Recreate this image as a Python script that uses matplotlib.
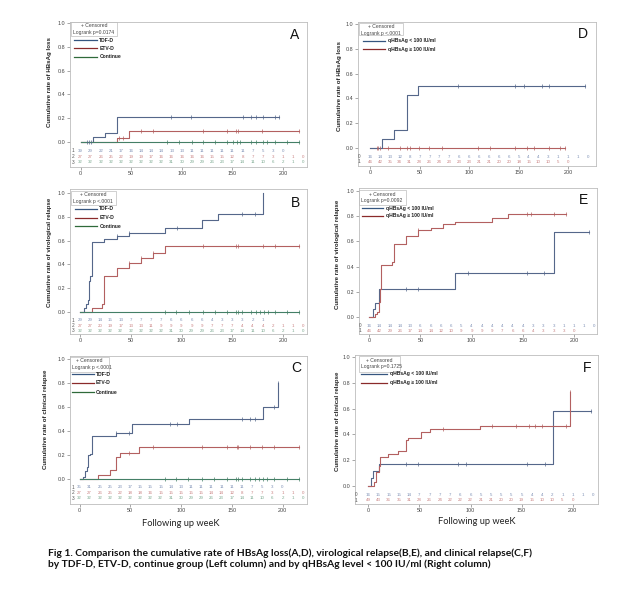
import numpy as np
import matplotlib.pyplot as plt
from matplotlib.lines import Line2D
from matplotlib.patches import Rectangle

plt.rcParams['font.family'] = ['Liberation Sans', 'DejaVu Sans']

W, H = 637, 605

# ---- data ----
risk_times = list(range(0, 230, 10))

# A: HBsAg loss by group
a_tdf_t = [0, 12, 24, 36]
a_tdf_y = [0, 0.04, 0.076, 0.21]
a_tdf_end = 196
a_tdf_cens = [6, 8, 10, 89, 109, 160, 168, 173, 180, 192, 196]
a_etv_t = [0, 36, 48]
a_etv_y = [0, 0.037, 0.09]
a_etv_end = 216
a_etv_cens = [38, 42, 60, 72, 121, 145, 154, 156, 179, 216]
a_cont_end = 216
a_cont_cens = [85, 97, 110, 121, 133, 145, 151, 155, 158, 168, 173, 180, 184, 192, 204, 216]
a_risk = [
    [39, 29, 22, 21, 17, 16, 14, 14, 14, 13, 13, 11, 11, 11, 11, 11, 11, 7, 5, 3, 0],
    [27, 27, 26, 25, 22, 19, 19, 17, 16, 16, 16, 16, 16, 15, 15, 12, 8, 7, 7, 3, 1, 1, 0],
    [32, 32, 32, 32, 32, 32, 32, 32, 32, 31, 30, 29, 29, 26, 23, 17, 14, 11, 10, 6, 2, 1, 0],
]

# B: virological relapse by group
b_tdf_t = [0, 4, 6, 8, 9, 10, 12, 24, 36, 48, 84, 120, 136, 180]
b_tdf_y = [0, 0.03, 0.07, 0.10, 0.26, 0.30, 0.59, 0.615, 0.64, 0.665, 0.71, 0.77, 0.825, 1.0]
b_tdf_end = 180
b_tdf_cens = [36, 48, 96, 160, 172]
b_etv_t = [0, 12, 22, 24, 36, 48, 60, 72, 84]
b_etv_y = [0, 0.035, 0.07, 0.30, 0.37, 0.41, 0.45, 0.50, 0.555]
b_etv_end = 216
b_etv_cens = [48, 60, 72, 121, 154, 156, 180, 192, 216]
b_cont_end = 216
b_cont_cens = [84, 95, 107, 121, 133, 145, 154, 156, 160, 168, 173, 177, 181, 185, 192, 204, 216]
b_risk = [
    [29, 29, 14, 15, 13, 7, 7, 7, 7, 6, 6, 6, 6, 4, 3, 3, 3, 2, 1],
    [27, 27, 20, 19, 17, 13, 13, 11, 9, 9, 9, 9, 9, 7, 7, 7, 4, 4, 4, 2, 1, 1, 0],
    [32, 32, 32, 32, 32, 32, 32, 32, 32, 31, 30, 29, 29, 26, 23, 17, 14, 11, 10, 6, 2, 1, 0],
]

# C: clinical relapse by group
c_tdf_t = [0, 3, 5, 7, 8, 10, 12, 36, 52, 108, 181, 196]
c_tdf_y = [0, 0.02, 0.07, 0.10, 0.20, 0.21, 0.355, 0.385, 0.455, 0.50, 0.60, 0.80]
c_tdf_end = 196
c_tdf_cens = [36, 49, 89, 96, 160, 168, 173, 192, 196]
c_etv_t = [0, 18, 30, 36, 40, 59]
c_etv_y = [0, 0.035, 0.075, 0.18, 0.22, 0.265]
c_etv_end = 216
c_etv_cens = [49, 72, 121, 145, 155, 156, 168, 180, 192, 216]
c_cont_end = 216
c_cont_cens = [84, 95, 107, 121, 133, 145, 154, 156, 160, 168, 173, 177, 181, 185, 192, 204, 216]
c_risk = [
    [35, 31, 25, 25, 23, 17, 15, 15, 15, 14, 13, 11, 11, 11, 11, 11, 11, 7, 5, 3, 0],
    [27, 27, 26, 25, 22, 18, 18, 16, 15, 15, 15, 15, 15, 14, 14, 12, 8, 7, 7, 3, 1, 1, 0],
    [32, 32, 32, 32, 32, 32, 32, 32, 32, 31, 30, 29, 29, 26, 23, 17, 14, 11, 10, 6, 2, 1, 0],
]

# D: HBsAg loss by qHBsAg level
d_lo_t = [0, 12, 24, 37, 48]
d_lo_y = [0, 0.07, 0.145, 0.425, 0.5]
d_lo_end = 217
d_lo_cens = [89, 146, 155, 173, 181, 217]
d_hi_end = 197
d_hi_cens = [7, 8, 10, 18, 30, 37, 40, 49, 60, 73, 109, 121, 146, 158, 165, 181, 192, 197]
d_risk = [
    [16, 14, 13, 12, 8, 7, 7, 7, 7, 6, 6, 6, 6, 6, 6, 5, 4, 4, 3, 1, 1, 1, 0],
    [46, 42, 35, 34, 31, 28, 26, 24, 23, 23, 23, 21, 21, 20, 20, 18, 15, 10, 10, 5, 0],
]

# E: virological relapse by qHBsAg level
e_lo_t = [0, 4, 6, 9, 84, 180]
e_lo_y = [0, 0.06, 0.11, 0.22, 0.35, 0.675]
e_lo_end = 215
e_lo_cens = [36, 48, 96, 154, 171, 215]
e_hi_t = [0, 6, 8, 9, 10, 11, 22, 24, 36, 48, 60, 72, 84, 120, 136]
e_hi_y = [0, 0.02, 0.04, 0.12, 0.22, 0.415, 0.44, 0.58, 0.645, 0.69, 0.705, 0.735, 0.755, 0.785, 0.815]
e_hi_end = 192
e_hi_cens = [48, 154, 158, 180, 192]
e_risk = [
    [16, 14, 14, 14, 13, 6, 6, 6, 6, 5, 4, 4, 4, 4, 4, 4, 3, 3, 3, 1, 1, 1, 0],
    [46, 42, 29, 26, 17, 14, 14, 12, 10, 9, 9, 9, 9, 7, 6, 6, 4, 3, 3, 3, 0],
]

# F: clinical relapse by qHBsAg level
f_lo_t = [0, 3, 5, 10, 181]
f_lo_y = [0, 0.06, 0.115, 0.17, 0.58]
f_lo_end = 218
f_lo_cens = [37, 49, 88, 96, 155, 173, 218]
f_hi_t = [0, 6, 8, 10, 11, 19, 29, 37, 39, 52, 60, 109, 197]
f_hi_y = [0, 0.03, 0.11, 0.155, 0.225, 0.245, 0.27, 0.355, 0.37, 0.42, 0.445, 0.465, 0.73]
f_hi_end = 197
f_hi_cens = [73, 121, 145, 157, 163, 170, 193, 197]
f_risk = [
    [16, 15, 15, 15, 14, 7, 7, 7, 7, 6, 6, 5, 5, 5, 5, 5, 4, 4, 2, 1, 1, 1, 0],
    [49, 43, 36, 35, 31, 28, 26, 24, 22, 22, 22, 21, 21, 20, 20, 19, 15, 10, 10, 5, 0],
]

group_labels = ['TDF-D', 'ETV-D', 'Continue']
level_labels = ['qHBsAg < 100 IU/ml', 'qHBsAg \u2265 100 IU/ml']

# ---- styles ----
c_blue = '#55678a'
c_red = '#b36060'
c_green = '#447f66'
leg_cols3 = ['#35557f', '#8a2a2a', '#2f6a3a']
risk_cols3 = ['#7c8fb4', '#c98080', '#7aa88f']


def fx(x):
    return x / W


def fy(y):
    return 1 - y / H


def step_curve(ax, t, y, end, cens, color):
    tt = list(t) + [end]
    yy = list(y) + [y[-1]]
    ax.step(tt, yy, where='post', color=color, lw=0.8, zorder=3)
    idx = np.searchsorted(np.array(t), np.array(cens), side='right') - 1
    cy = np.array(y)[idx]
    ax.plot(cens, cy, ls='none', marker='|', ms=3, mew=0.5, color=color, zorder=4)


def make_axes(fig, geo):
    left, top, right, bottom = geo['frame']
    ax = fig.add_axes([fx(left), fy(bottom), (right - left) / W, (bottom - top) / H])
    sy = geo['y0'] - geo['y1']
    ax.set_ylim((geo['y0'] - bottom) / sy, (geo['y0'] - top) / sy)
    sx = (geo['x200'] - geo['x0']) / 200
    ax.set_xlim((left - geo['x0']) / sx, (right - geo['x0']) / sx)
    ax.set_yticks([0, 0.2, 0.4, 0.6, 0.8, 1.0])
    ax.set_yticklabels(['0.0', '0.2', '0.4', '0.6', '0.8', '1.0'])
    ax.set_xticks([0, 50, 100, 150, 200])
    ax.tick_params(labelsize=3.9, length=2, width=0.4, pad=1.2,
                   colors='#666666', labelcolor='#444444')
    for s in ax.spines.values():
        s.set_color('#bdbdbd')
        s.set_linewidth(0.6)
    geo['sy'] = sy
    return ax


def risk_table(ax, geo, rows, cols, labels):
    sy = geo['sy']
    for r, (vals, col, lab) in enumerate(zip(rows, cols, labels)):
        yv = (geo['y0'] - geo['rows'][r]) / sy
        ax.text(geo['rowlab'], yv, lab, transform=ax.get_yaxis_transform(),
                fontsize=3.4, color='#555555', ha='center', va='center')
        for tm, v in zip(risk_times, vals):
            ax.text(tm, yv, str(v), fontsize=3.2, color=col, ha='center', va='center')


def legend_block(fig, geo, pval, labels, colors):
    bx0, by0, bx1, by1 = geo['box']
    fig.add_artist(Rectangle((fx(bx0), fy(by1)), (bx1 - bx0) / W, (by1 - by0) / H,
                             transform=fig.transFigure, fill=False,
                             edgecolor='#bdbdbd', lw=0.5))
    xm = (bx0 + bx1) / 2
    fig.text(fx(xm), fy(by0 + 4), '+ Censored', fontsize=3.6, color='#444444',
             ha='center', va='center')
    fig.text(fx(bx0 + 2), fy(by0 + 10.5), 'Logrank ' + pval, fontsize=3.6,
             color='#444444', ha='left', va='center')
    lx0, lx1, tx = geo['leg_x']
    for yl, lab, col in zip(geo['leg_y'], labels, colors):
        fig.add_artist(Line2D([fx(lx0), fx(lx1)], [fy(yl), fy(yl)], color=col,
                              lw=0.9, transform=fig.transFigure))
        fig.text(fx(tx), fy(yl), lab, fontsize=3.6, fontweight='bold',
                 color='#222222', ha='left', va='center')


panels = {
    'A': dict(frame=(70, 22, 307, 167), y0=142, y1=23, x0=80.5, x200=283,
              rows=[151, 156.7, 162.3], rowlab=0.012,
              box=(70.7, 21.7, 117, 36), leg_y=[40, 48.3, 56.7], leg_x=(74, 96.7, 99.3),
              letter=(295, 35), ylab=(49, 82), ylabel='Cumulative rate of HBsAg loss',
              pval='p=0.0174'),
    'B': dict(frame=(70, 189, 307, 334), y0=312, y1=193, x0=80, x200=283,
              rows=[320, 325.7, 330.7], rowlab=0.012,
              box=(70.7, 190.7, 115.7, 205), leg_y=[209, 217.7, 226], leg_x=(75, 97.3, 99.3),
              letter=(295, 203), ylab=(49, 252), ylabel='Cumulative rate of virological relapse',
              pval='p <.0001'),
    'C': dict(frame=(70, 356, 307, 504), y0=479, y1=359, x0=79.5, x200=282.5,
              rows=[487.3, 492.7, 498.3], rowlab=0.012,
              box=(70, 356.7, 109, 371.7), leg_y=[374.3, 382.7, 392], leg_x=(71.7, 94, 96),
              letter=(296, 368), ylab=(45, 419), ylabel='Cumulative rate of clinical relapse',
              pval='p <.0001'),
    'D': dict(frame=(358, 22, 596, 166), y0=148, y1=24, x0=370, x200=568.3,
              rows=[156.7, 161.7], rowlab=0.005,
              box=(359, 22.7, 403, 35), leg_y=[40.7, 49], leg_x=(362.7, 385, 388),
              letter=(583, 34), ylab=(339, 86), ylabel='Cumulative rate of HBsAg loss',
              pval='p <.0001'),
    'E': dict(frame=(359, 188, 597, 334), y0=317, y1=191, x0=369.3, x200=574,
              rows=[325.7, 330.7], rowlab=0.005,
              box=(359, 190, 406, 205), leg_y=[208.3, 216], leg_x=(361.7, 383.3, 386),
              letter=(583, 200), ylab=(337, 254), ylabel='Cumulative rate of virological relapse',
              pval='p=0.0092'),
    'F': dict(frame=(355, 355, 598, 504), y0=486, y1=357, x0=368.3, x200=572.7,
              rows=[494.7, 500], rowlab=0.005,
              box=(359, 356, 400, 371.7), leg_y=[374, 382.7], leg_x=(360.7, 386.7, 390),
              letter=(587, 368), ylab=(338, 421), ylabel='Cumulative rate of clinical relapse',
              pval='p=0.1725'),
}

fig = plt.figure(figsize=(6.37, 6.05), dpi=100)

curves = {
    'A': [(a_tdf_t, a_tdf_y, a_tdf_end, a_tdf_cens, c_blue),
          (a_etv_t, a_etv_y, a_etv_end, a_etv_cens, c_red),
          ([0], [0], a_cont_end, a_cont_cens, c_green)],
    'B': [(b_tdf_t, b_tdf_y, b_tdf_end, b_tdf_cens, c_blue),
          (b_etv_t, b_etv_y, b_etv_end, b_etv_cens, c_red),
          ([0], [0], b_cont_end, b_cont_cens, c_green)],
    'C': [(c_tdf_t, c_tdf_y, c_tdf_end, c_tdf_cens, c_blue),
          (c_etv_t, c_etv_y, c_etv_end, c_etv_cens, c_red),
          ([0], [0], c_cont_end, c_cont_cens, c_green)],
    'D': [([0], [0], d_hi_end, d_hi_cens, c_red),
          (d_lo_t, d_lo_y, d_lo_end, d_lo_cens, c_blue)],
    'E': [(e_lo_t, e_lo_y, e_lo_end, e_lo_cens, c_blue),
          (e_hi_t, e_hi_y, e_hi_end, e_hi_cens, c_red)],
    'F': [(f_lo_t, f_lo_y, f_lo_end, f_lo_cens, c_blue),
          (f_hi_t, f_hi_y, f_hi_end, f_hi_cens, c_red)],
}
risks = {'A': a_risk, 'B': b_risk, 'C': c_risk, 'D': d_risk, 'E': e_risk, 'F': f_risk}

for key, geo in panels.items():
    ax = make_axes(fig, geo)
    for t, y, end, cens, col in curves[key]:
        step_curve(ax, t, y, end, cens, col)
    if key in 'ABC':
        risk_table(ax, geo, risks[key], risk_cols3, ['1', '2', '3'])
        legend_block(fig, geo, geo['pval'], group_labels, leg_cols3)
    else:
        risk_table(ax, geo, risks[key], [risk_cols3[0], risk_cols3[1]], ['0', '1'])
        legend_block(fig, geo, geo['pval'], level_labels, leg_cols3[:2])
    lx, ly = geo['letter']
    fig.text(fx(lx), fy(ly), key, fontsize=10, ha='center', va='center', color='#111111')
    yx, yy = geo['ylab']
    fig.text(fx(yx), fy(yy), geo['ylabel'], rotation=90, fontsize=4.4, fontweight='bold',
             ha='center', va='center', color='#222222')

# x labels
fig.text(fx(181), fy(523), 'Following up weeK', fontsize=6.7, family='Lato',
         ha='center', va='center', color='#222222')
fig.text(fx(477), fy(522), 'Following up weeK', fontsize=6.7, family='Lato',
         ha='center', va='center', color='#222222')

# caption
fig.text(fx(48), fy(553), 'Fig 1. Comparison the cumulative rate of HBsAg loss(A,D), '
         'virological relapse(B,E), and clinical relapse(C,F)', fontsize=7.35,
         family='Lato', fontweight='bold', ha='left', va='center', color='#111111')
fig.text(fx(48), fy(564.5), 'by TDF-D, ETV-D, continue group (Left column) and by qHBsAg '
         'level < 100 IU/ml (Right column)', fontsize=7.35,
         family='Lato', fontweight='bold', ha='left', va='center', color='#111111')

fig.savefig('out.png', dpi=100)
